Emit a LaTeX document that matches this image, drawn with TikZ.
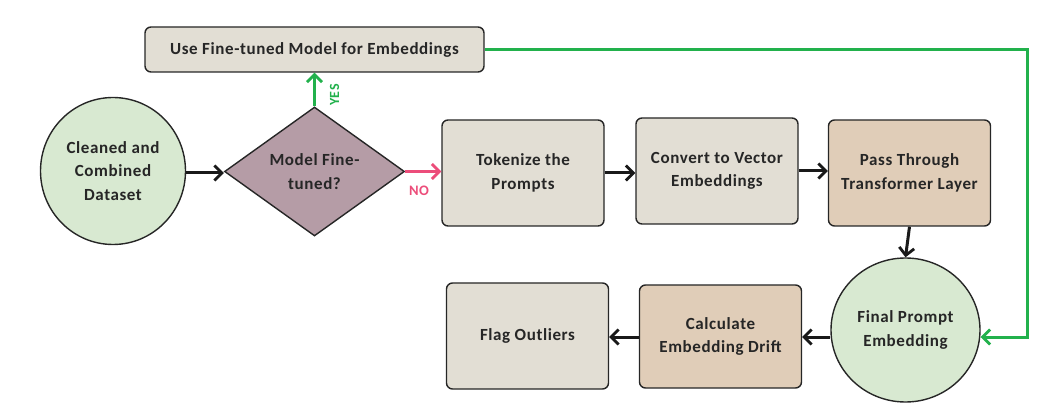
\documentclass[tikz,border=0pt]{standalone}
\usepackage{fontspec}
\setmainfont{Carlito}[LetterSpace=3.5]
\usetikzlibrary{shapes.geometric,arrows.meta}
\definecolor{cgreen}{RGB}{216,233,209}
\definecolor{cmauve}{RGB}{181,156,166}
\definecolor{cgray}{RGB}{226,222,212}
\definecolor{ctan}{RGB}{224,205,184}
\definecolor{lgreen}{RGB}{34,177,76}
\definecolor{lpink}{RGB}{236,77,122}
\tikzset{
  every node/.style={font=\fontsize{17}{23.5}\selectfont\bfseries, text=black!85, align=center},
  procbox/.style={draw=black!85, line width=1.4pt, rounded corners=6pt, minimum width=162pt, minimum height=106pt, inner sep=2pt},
  graybox/.style={procbox, fill=cgray},
  tanbox/.style={procbox, fill=ctan},
  blob/.style={draw=black!85, line width=1.4pt, fill=cgreen, ellipse, inner sep=0pt},
  flow/.style={line width=3pt, -{Straight Barb[length=7.5pt,width=15pt,line width=2.8pt]}, black!90},
  yesflow/.style={flow, lgreen},
  noflow/.style={flow, lpink},
}
\begin{document}
\begin{tikzpicture}[x=1pt,y=-1pt]
\useasboundingbox (0,0) rectangle (1058,406);
\node[graybox, minimum width=339pt, minimum height=45pt] (use) at (314.5,49.5) {Use Fine-tuned Model for Embeddings};
\node[blob, minimum width=145pt, minimum height=147pt] (data) at (113,171) {Cleaned and\\Combined\\Dataset};
\node[draw=black!85, line width=1.4pt, fill=cmauve, diamond, minimum width=180pt, minimum height=129pt, inner sep=0pt] (dec) at (314.5,171.5) {Model Fine-\\tuned?};
\node[graybox] (tok) at (523,173) {Tokenize the\\Prompts};
\node[graybox] (conv) at (717,171) {Convert to Vector\\Embeddings};
\node[tanbox] (pass) at (909.5,173) {Pass Through\\Transformer Layer};
\node[blob, minimum width=149pt, minimum height=144pt] (fin) at (905.5,330) {Final Prompt\\Embedding};
\node[tanbox, minimum height=103pt] (calc) at (720.5,336.5) {Calculate\\Embedding Drift};
\node[graybox] (flag) at (527.5,336) {Flag Outliers};
\coordinate (c1) at (1027,49.5);
\coordinate (c2) at (1027,337);
\node[rotate=90, font=\fontsize{14}{15}\selectfont\bfseries, text=lgreen] (yes) at (334.5,95) {YES};
\node[font=\fontsize{14.5}{15}\selectfont\bfseries, text=lpink] (no) at (419,191) {NO};

\draw[flow] (data.east |- 0,173) -- (dec.west |- 0,173);
\draw[yesflow] (dec.north) -- (use.south);
\draw[noflow] (dec.east) -- (tok.west |- dec.east);
\draw[flow] (tok.east) -- (conv.west |- tok.east);
\draw[flow] (conv.east) -- (pass.west |- conv.east);
\draw[flow] (pass.south) -- (fin.north);
\draw[flow] (fin.west |- 0,337) -- (calc.east |- 0,337);
\draw[flow] (calc.west |- 0,337) -- (flag.east |- 0,337);
\draw[yesflow] (use.east) -- (c1) -- (c2) -- (fin.east |- c2);
\end{tikzpicture}
\end{document}
